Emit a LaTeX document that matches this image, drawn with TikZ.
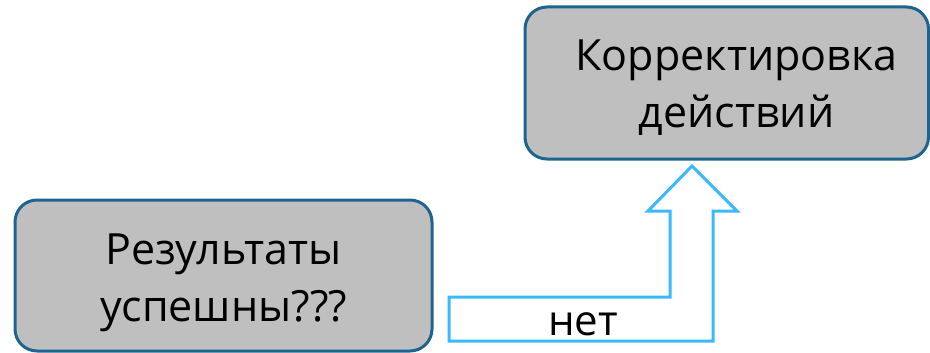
\documentclass[tikz,border=0pt]{standalone}
\usepackage{fontspec}
\setmainfont{Open Sans}
\definecolor{boxfill}{HTML}{BFBFBF}
\definecolor{boxline}{HTML}{1F6391}
\definecolor{arrowline}{HTML}{3BB9FF}
\begin{document}
\begin{tikzpicture}[x=1pt,y=-1pt,
  roundbox/.style={draw=boxline,fill=boxfill,line width=3pt,rounded corners=22pt},
  boxtext/.style={align=center,font=\fontsize{43}{57}\selectfont,text=black,inner sep=0pt},
  bentarrow/.style={draw=arrowline,fill=white,line width=3pt,line join=miter}]
\useasboundingbox (0,0) rectangle (930,353);
\draw[roundbox] (15,200) rectangle (432,351);
\draw[roundbox] (525,7) rectangle (928.5,159);
\node[boxtext] (res) at (223.5,283) {Результаты\\успешны???};
\node[boxtext] (kor) at (736.5,88) {Корректировка\\действий};
\draw[bentarrow] (449,297) -- (670,297) -- (670,211) -- (648,211) -- (692,166)
  -- (737,211) -- (713,211) -- (713,341) -- (449,341) -- cycle;
\node[font=\fontsize{42}{50}\selectfont,anchor=base,inner sep=0pt] (net) at (583,335) {нет};
\end{tikzpicture}
\end{document}
